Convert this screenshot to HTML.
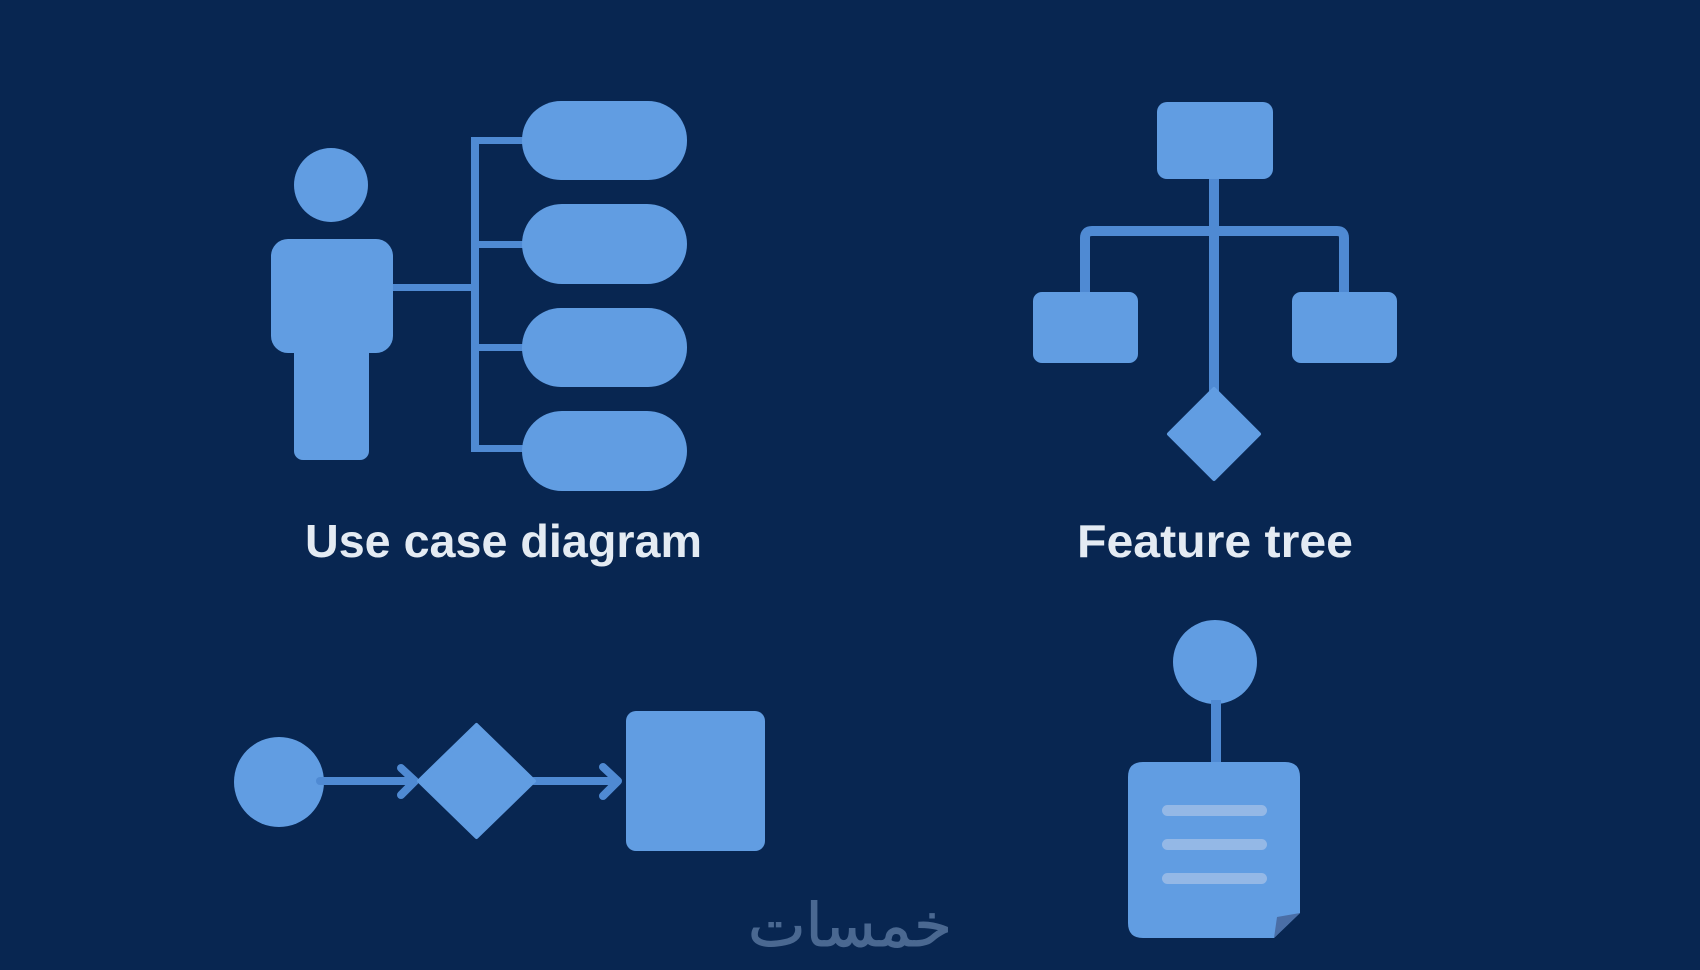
<!DOCTYPE html>
<html><head><meta charset="utf-8"><style>
html,body{margin:0;padding:0;background:#082651;}
svg{display:block;}
</style></head><body>
<svg width="1700" height="970" viewBox="0 0 1700 970" xmlns="http://www.w3.org/2000/svg">
<rect width="1700" height="970" fill="#082651"/>
<!-- Use case diagram -->
<circle cx="331" cy="185" r="37" fill="#619de2"/>
<rect x="271" y="239" width="122" height="114" rx="17" fill="#619de2"/>
<rect x="294" y="330" width="75" height="130" rx="9" fill="#619de2"/>
<g fill="#4f8ad3">
<rect x="393" y="284" width="82" height="7"/>
<rect x="471" y="137" width="8" height="315"/>
<rect x="471" y="137" width="55" height="7"/>
<rect x="471" y="241" width="55" height="7"/>
<rect x="471" y="344" width="55" height="7"/>
<rect x="471" y="445" width="55" height="7"/>
</g>
<g fill="#619de2">
<rect x="522" y="101" width="165" height="79" rx="39"/>
<rect x="522" y="204" width="165" height="80" rx="40"/>
<rect x="522" y="308" width="165" height="79" rx="39"/>
<rect x="522" y="411" width="165" height="80" rx="40"/>
</g>
<text x="305" y="557" font-family="Liberation Sans, sans-serif" font-weight="bold" font-size="46" fill="#e4ebf3" textLength="397" lengthAdjust="spacingAndGlyphs">Use case diagram</text>

<!-- Feature tree -->
<g fill="none" stroke="#4f8ad3" stroke-width="10">
<line x1="1214" y1="175" x2="1214" y2="395"/>
<path d="M1085 295 V238 Q1085 231 1092 231 H1337 Q1344 231 1344 238 V295"/>
</g>
<g fill="#619de2">
<rect x="1157" y="102" width="116" height="77" rx="10"/>
<rect x="1033" y="292" width="105" height="71" rx="9"/>
<rect x="1292" y="292" width="105" height="71" rx="9"/>
<path d="M1214 389 L1259 434 L1214 479 L1169 434 Z" stroke="#619de2" stroke-width="4" stroke-linejoin="round"/>
</g>
<text x="1077" y="557" font-family="Liberation Sans, sans-serif" font-weight="bold" font-size="46" fill="#e4ebf3" textLength="276" lengthAdjust="spacingAndGlyphs">Feature tree</text>

<!-- Flow -->
<circle cx="279" cy="782" r="45" fill="#619de2"/>
<g stroke="#4f8ad3" stroke-width="8" fill="none" stroke-linecap="round" stroke-linejoin="round">
<line x1="320" y1="781" x2="414" y2="781"/>
<polyline points="401,768 415,781 401,795"/>
<line x1="534" y1="781" x2="616" y2="781"/>
<polyline points="603,767 618,781 603,796"/>
</g>
<path d="M476.5 725 L534 781 L476.5 837 L419 781 Z" fill="#619de2" stroke="#619de2" stroke-width="4" stroke-linejoin="round"/>
<rect x="626" y="711" width="139" height="140" rx="10" fill="#619de2"/>

<!-- Document -->
<circle cx="1215" cy="662" r="42" fill="#619de2"/>
<rect x="1211" y="700" width="10" height="66" fill="#4f8ad3"/>
<path d="M1143 762 H1285 Q1300 762 1300 777 V913 L1274 938 H1143 Q1128 938 1128 923 V777 Q1128 762 1143 762 Z" fill="#619de2"/>
<path d="M1300 913 L1274 938 L1277 917 Z" fill="#4a6ea6"/>
<g fill="#94b8e6">
<rect x="1162" y="805" width="105" height="11" rx="5.5"/>
<rect x="1162" y="839" width="105" height="11" rx="5.5"/>
<rect x="1162" y="873" width="105" height="11" rx="5.5"/>
</g>

<!-- watermark -->
<text x="850" y="946" text-anchor="middle" direction="rtl" font-family="DejaVu Sans, sans-serif" font-size="60" fill="#4a6891" stroke="#4a6891" stroke-width="1" textLength="204" lengthAdjust="spacingAndGlyphs">خمسات</text>
</svg>
</body></html>
